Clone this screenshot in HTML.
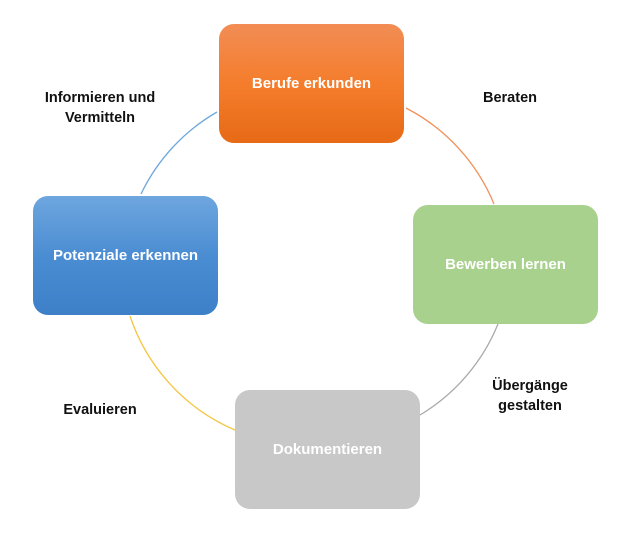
<!DOCTYPE html>
<html><head><style>
body{margin:0;width:631px;height:547px;background:#fff;position:relative;overflow:hidden;font-family:"Liberation Sans",sans-serif}
.b{position:absolute;width:185px;height:119px;border-radius:15px;color:#fff;font-weight:bold;font-size:15px;display:flex;align-items:center;justify-content:center}
.l{position:absolute;font-weight:bold;font-size:14.5px;color:#111;text-align:center;line-height:20px}
</style></head><body>
<svg width="631" height="547" style="position:absolute;left:0;top:0" fill="none" stroke-width="1.3">
<path d="M217 112 A189 189 0 0 0 141 194" stroke="#6fa8dc"/>
<path d="M406 108 A189 189 0 0 1 494 204" stroke="#f0905a"/>
<path d="M498 324 A189 189 0 0 1 420 415" stroke="#aaa"/>
<path d="M130 316 A189 189 0 0 0 235 430" stroke="#f5c542"/>
</svg>
<div class="b" style="left:219px;top:24px;background:linear-gradient(#f28d55,#f47d2c 50%,#e76a16)">Berufe erkunden</div>
<div class="b" style="left:413px;top:205px;background:#a8d18d">Bewerben lernen</div>
<div class="b" style="left:235px;top:390px;background:#c8c8c8">Dokumentieren</div>
<div class="b" style="left:33px;top:196px;background:linear-gradient(#6ea6df,#4b8dd2 50%,#3e80c8)">Potenziale erkennen</div>
<div class="l" style="left:15px;top:88px;width:170px">Informieren und<br>Vermitteln</div>
<div class="l" style="left:470px;top:88px;width:80px">Beraten</div>
<div class="l" style="left:475px;top:376px;width:110px">Übergänge<br>gestalten</div>
<div class="l" style="left:50px;top:400px;width:100px">Evaluieren</div>
</body></html>
